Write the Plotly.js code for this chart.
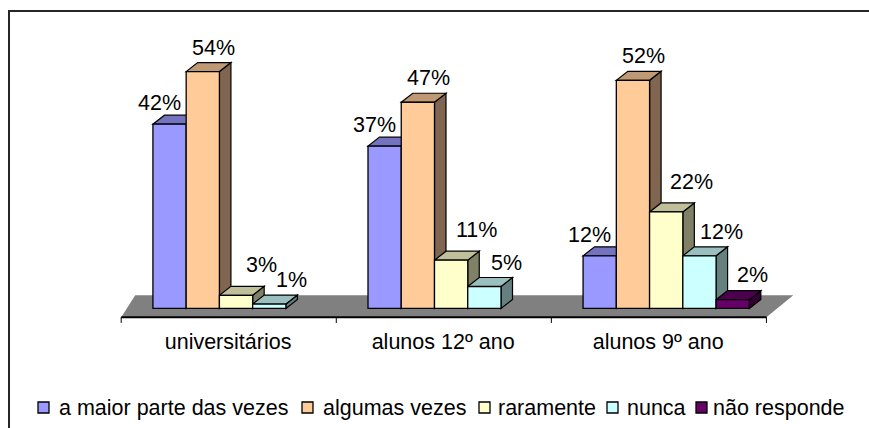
<!DOCTYPE html>
<html><head><meta charset="utf-8">
<script src="https://cdn.plot.ly/plotly-3.0.1.min.js"></script>
<style>
html,body{margin:0;padding:0;background:#fff;}
#wrap{position:relative;width:869px;height:428px;overflow:hidden;}
#chart{width:869px;height:428px;}
#frame{position:absolute;left:8px;top:10px;width:900px;height:500px;border-left:2px solid #262626;border-top:2px solid #262626;pointer-events:none;}
</style></head><body>
<div id="wrap"><div id="chart"></div><div id="frame"></div></div>
<script>
// ---- data ----
const categories = ['universitários', 'alunos 12º ano', 'alunos 9º ano'];
const seriesNames = ['a maior parte das vezes', 'algumas vezes', 'raramente', 'nunca', 'não responde'];
const maiorParte   = [42, 37, 12];
const algumasVezes = [54, 47, 52];
const raramente    = [3, 11, 22];
const nunca        = [1, 5, 12];
const naoResponde  = [null, null, 2];

// ---- style ----
const FONT = 'Liberation Sans, Arial, sans-serif';
const FS = 21.5;
const frontCol = ['#9999FF', '#FFCC99', '#FFFFCC', '#CCFFFF', '#660066'];
const topCol   = ['#7373BF', '#BF9973', '#BFBF99', '#99BFBF', '#4D004D'];
const sideCol  = ['#4D4D80', '#806650', '#808066', '#668080', '#330033'];
const labelDX  = [-10, 11, 25, 22, 20];   // px shifts of value labels
const labelDY  = [21, 24, 30, 24, 25];

const series = [maiorParte, algumasVezes, raramente, nunca, naoResponde];
const xs = categories.map((c, i) => i);
const BARGAP = 0.227;
const nS = series.length;
const w = (1 - BARGAP) / nS;     // bar width in category units
const DX = 0.0535, DY = 2.05;    // 3-D depth in data units

const M = {l: 107, r: 63, t: 54, b: 102};
const XR = [-0.6, 2.65], YR = [-4, 58];
const W = 869 - M.l - M.r, H = 428 - M.t - M.b;
const pxX = px => (px - M.l) / W;
const pxY = py => (428 - M.b - py) / H;

const traces = series.map((vals, s) => ({
  type: 'bar', x: xs, y: vals, name: seriesNames[s],
  marker: {color: frontCol[s], line: {color: '#000', width: 1.3}},
  hoverinfo: 'skip'
}));

const shapes = [];
// floor
const fl = {xl: -0.534, xr: 2.466, bl: -0.469, br: 2.591, yf: -1.98, yb: 3.03};
shapes.push({type: 'path', layer: 'below', xref: 'x', yref: 'y',
  path: `M${fl.xl},${fl.yf} L${fl.xr},${fl.yf} L${fl.br},${fl.yb} L${fl.bl},${fl.yb} Z`,
  fillcolor: '#808080', line: {width: 0}});
shapes.push({type: 'line', layer: 'below', xref: 'x', yref: 'y',
  x0: fl.xl, x1: fl.xr, y0: fl.yf, y1: fl.yf, line: {color: '#000', width: 2}});
for (let i = 0; i <= categories.length; i++) {
  const xt = fl.xl + i;
  shapes.push({type: 'line', layer: 'below', xref: 'x', yref: 'y',
    x0: xt, x1: xt, y0: fl.yf, y1: -3.3, line: {color: '#000', width: 1}});
}
// 3-D faces
const annotations = [];
xs.forEach(c => {
  series.forEach((vals, s) => {
    const v = vals[c];
    if (v === null) return;
    const x0 = c + (s - nS / 2) * w, x1 = x0 + w;
    shapes.push({type: 'path', layer: 'below', xref: 'x', yref: 'y',
      path: `M${x1},0 L${x1},${v} L${x1 + DX},${v + DY} L${x1 + DX},${DY} Z`,
      fillcolor: sideCol[s], line: {color: '#000', width: 1.2}});
    shapes.push({type: 'path', layer: 'below', xref: 'x', yref: 'y',
      path: `M${x0},${v} L${x1},${v} L${x1 + DX},${v + DY} L${x0 + DX},${v + DY} Z`,
      fillcolor: topCol[s], line: {color: '#000', width: 1.2}});
    annotations.push({x: x0 + w / 2, y: v, xref: 'x', yref: 'y', text: v + '%',
      showarrow: false, xanchor: 'center', yanchor: 'middle',
      xshift: labelDX[s], yshift: labelDY[s],
      font: {family: FONT, size: FS, color: '#000'}});
  });
});
// manual legend
const legSq = [38, 302, 479, 607, 696];
const legTx = [57, 321, 496, 625, 711];
seriesNames.forEach((n, s) => {
  shapes.push({type: 'rect', xref: 'paper', yref: 'paper',
    x0: pxX(legSq[s]), x1: pxX(legSq[s] + 11), y0: pxY(413), y1: pxY(402),
    fillcolor: frontCol[s], line: {color: '#000', width: 1.3}});
  annotations.push({xref: 'paper', yref: 'paper', x: pxX(legTx[s]), y: pxY(408),
    text: n, showarrow: false, xanchor: 'left', yanchor: 'middle',
    font: {family: FONT, size: FS, color: '#000'}});
});

const layout = {
  width: 869, height: 428, margin: M,
  paper_bgcolor: '#fff', plot_bgcolor: 'rgba(0,0,0,0)',
  barmode: 'group', bargap: BARGAP, bargroupgap: 0,
  showlegend: false,
  font: {family: FONT, size: FS, color: '#000'},
  xaxis: {range: XR, tickvals: xs, ticktext: categories, showgrid: false,
    zeroline: false, showline: false, ticks: '', ticklabelshift: -8,
    ticklabelstandoff: 0, tickfont: {family: FONT, size: FS, color: '#000'}},
  yaxis: {range: YR, visible: false, showgrid: false, zeroline: false},
  shapes: shapes, annotations: annotations
};
Plotly.newPlot('chart', traces, layout, {displayModeBar: false, staticPlot: true});
</script>
</body></html>
